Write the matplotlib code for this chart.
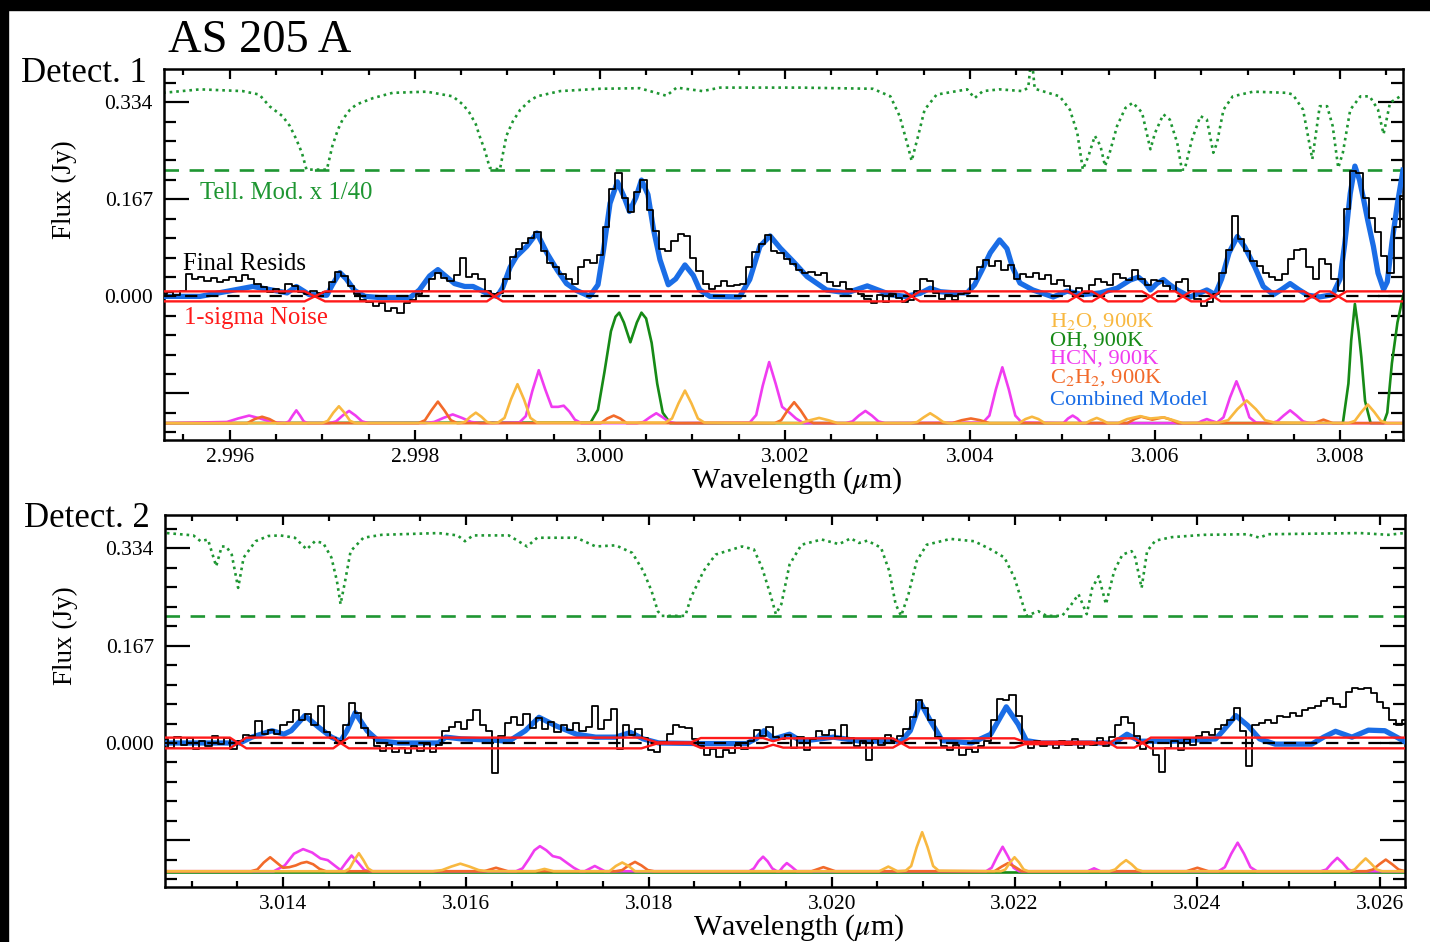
import numpy as np
import matplotlib.pyplot as plt
from matplotlib.patches import Rectangle
from matplotlib.ticker import MultipleLocator, FormatStrFormatter

plt.rcParams['font.family'] = ['Liberation Serif', 'DejaVu Serif']
plt.rcParams['mathtext.fontset'] = 'stix'

# colours
TELL_C = '#1e9632'
OH_C = '#168a16'
RED_C = '#ff1a1a'
BLUE_C = '#1a6de6'
HCN_C = '#f03cf0'
H2O_C = '#f8b840'
C2H2_C = '#f26a2a'

TELL_FLOOR = 0.218
YTICKS = [-0.167, 0.0, 0.167, 0.334]
YLABELS = ['', '0.000', '0.167', '0.334']
XLIM1 = (2.99529, 3.00868)
XLIM2 = (3.01271, 3.02627)

# ---------------- Detector 1 ----------------
tell1 = [(2.99528, 0.350), (2.99568, 0.356), (2.99614, 0.353), (2.99632, 0.347), (2.99643, 0.327),
         (2.99657, 0.310), (2.99665, 0.293), (2.99672, 0.270), (2.99678, 0.247), (2.99683, 0.218),
         (2.99705, 0.218), (2.99711, 0.259), (2.99717, 0.287), (2.99722, 0.304), (2.99730, 0.321),
         (2.99737, 0.330), (2.99755, 0.341), (2.99776, 0.350), (2.99813, 0.352), (2.99841, 0.344),
         (2.99852, 0.330), (2.99859, 0.316), (2.99866, 0.296), (2.99870, 0.276), (2.99876, 0.250),
         (2.99881, 0.221), (2.99892, 0.218), (2.99899, 0.276), (2.99906, 0.301), (2.99914, 0.321),
         (2.99924, 0.336), (2.99932, 0.344), (2.99957, 0.353), (3.00000, 0.357), (3.00043, 0.358),
         (3.00072, 0.345), (3.00083, 0.359), (3.00111, 0.353), (3.00130, 0.359), (3.00216, 0.359),
         (3.00295, 0.357), (3.00314, 0.344), (3.00324, 0.310), (3.00332, 0.264), (3.00337, 0.233),
         (3.00344, 0.276), (3.00351, 0.321), (3.00364, 0.347), (3.00397, 0.356), (3.00405, 0.341),
         (3.00414, 0.353), (3.00432, 0.356), (3.00457, 0.353), (3.00463, 0.359), (3.00465, 0.390),
         (3.00468, 0.390), (3.00470, 0.357), (3.00497, 0.344), (3.00508, 0.321), (3.00516, 0.281),
         (3.00522, 0.218), (3.00528, 0.241), (3.00535, 0.276), (3.00541, 0.259), (3.00546, 0.224),
         (3.00551, 0.247), (3.00559, 0.293), (3.00568, 0.324), (3.00576, 0.333), (3.00586, 0.316),
         (3.00595, 0.253), (3.00600, 0.281), (3.00609, 0.313), (3.00616, 0.304), (3.00624, 0.264),
         (3.00629, 0.218), (3.00632, 0.218), (3.00640, 0.270), (3.00649, 0.310), (3.00656, 0.304),
         (3.00663, 0.247), (3.00667, 0.264), (3.00674, 0.321), (3.00684, 0.344), (3.00706, 0.352),
         (3.00743, 0.350), (3.00749, 0.347), (3.00760, 0.321), (3.00770, 0.236), (3.00778, 0.327),
         (3.00786, 0.327), (3.00792, 0.293), (3.00798, 0.221), (3.00803, 0.247), (3.00811, 0.321),
         (3.00822, 0.344), (3.00832, 0.344), (3.00841, 0.321), (3.00847, 0.279), (3.00854, 0.333),
         (3.00868, 0.347)]

blue1 = [(2.99529, 0.0), (2.99568, 0.0), (2.99595, 0.008), (2.99625, 0.017), (2.99649, 0.010),
         (2.99662, 0.006), (2.99672, 0.017), (2.99679, 0.010), (2.99686, 0.003), (2.99705, 0.002),
         (2.99711, 0.020), (2.99719, 0.041), (2.99726, 0.030), (2.99735, 0.010), (2.99746, 0.0),
         (2.99762, -0.002), (2.99795, -0.002), (2.99805, 0.011), (2.99816, 0.035), (2.99825, 0.046),
         (2.99834, 0.034), (2.99843, 0.022), (2.99854, 0.017), (2.99863, 0.017), (2.99872, 0.010),
         (2.99881, 0.003), (2.99889, 0.0), (2.99895, 0.015), (2.99903, 0.050), (2.99910, 0.069),
         (2.99921, 0.086), (2.99932, 0.109), (2.99943, 0.074), (2.99954, 0.045), (2.99964, 0.022),
         (2.99975, 0.010), (2.99989, 0.0), (2.99998, 0.020), (3.00004, 0.080), (3.00011, 0.160),
         (3.00019, 0.197), (3.00026, 0.172), (3.00032, 0.146), (3.00039, 0.170), (3.00045, 0.200),
         (3.00052, 0.175), (3.00058, 0.115), (3.00065, 0.063), (3.00074, 0.020), (3.00082, 0.030),
         (3.00092, 0.054), (3.00101, 0.036), (3.00108, 0.011), (3.00119, 0.0), (3.00151, -0.001),
         (3.00162, 0.029), (3.00173, 0.086), (3.00184, 0.104), (3.00195, 0.083), (3.00209, 0.060),
         (3.00224, 0.034), (3.00245, 0.011), (3.00267, 0.006), (3.00278, 0.012), (3.00289, 0.018),
         (3.00299, 0.012), (3.00314, 0.003), (3.00330, 0.0), (3.00346, 0.005), (3.00357, 0.014),
         (3.00368, 0.008), (3.00384, 0.006), (3.00397, 0.006), (3.00405, 0.020), (3.00413, 0.045),
         (3.00422, 0.075), (3.00432, 0.097), (3.00440, 0.082), (3.00446, 0.050), (3.00454, 0.023),
         (3.00468, 0.011), (3.00490, -0.001), (3.00505, 0.009), (3.00522, 0.003), (3.00541, 0.006),
         (3.00559, 0.014), (3.00573, 0.028), (3.00582, 0.033), (3.00589, 0.024), (3.00595, 0.011),
         (3.00602, 0.022), (3.00609, 0.029), (3.00616, 0.020), (3.00624, 0.011), (3.00638, -0.001),
         (3.00656, 0.011), (3.00665, 0.003), (3.00672, 0.030), (3.00680, 0.075), (3.00689, 0.103),
         (3.00697, 0.085), (3.00708, 0.050), (3.00717, 0.017), (3.00728, 0.003), (3.00737, 0.012),
         (3.00746, 0.022), (3.00755, 0.012), (3.00765, 0.002), (3.00778, -0.001), (3.00792, 0.003),
         (3.00800, 0.030), (3.00805, 0.090), (3.00811, 0.177), (3.00816, 0.224), (3.00821, 0.200),
         (3.00825, 0.170), (3.00830, 0.130), (3.00836, 0.086), (3.00841, 0.040), (3.00847, 0.012),
         (3.00851, 0.025), (3.00856, 0.092), (3.00862, 0.160), (3.00868, 0.217)]

# final residual spectrum, evenly sampled across the detector
resid1 = [0.004, 0.008, 0.002, 0.010, 0.038, 0.030, 0.034, 0.026, 0.031, 0.024,
          0.028, 0.034, 0.027, 0.036, 0.030, 0.022, 0.016, 0.008, 0.012, 0.005,
          0.022, 0.018, 0.008, 0.004, 0.010, 0.006, 0.008, 0.025, 0.042, 0.035,
          0.018, 0.004, -0.006, -0.010, -0.016, -0.012, -0.026, -0.020, -0.028, -0.012,
          -0.006, 0.004, 0.010, 0.030, 0.040, 0.032, 0.026, 0.036, 0.066, 0.034,
          0.038, 0.030, 0.010, 0.004, 0.006, 0.030, 0.068, 0.082, 0.092, 0.100,
          0.110, 0.078, 0.058, 0.050, 0.038, 0.030, 0.022, 0.050, 0.062, 0.058,
          0.072, 0.120, 0.185, 0.212, 0.170, 0.145, 0.180, 0.200, 0.148, 0.112,
          0.082, 0.078, 0.096, 0.108, 0.104, 0.066, 0.044, 0.022, 0.012, 0.018,
          0.026, 0.018, 0.020, 0.022, 0.050, 0.076, 0.090, 0.106, 0.078, 0.074,
          0.064, 0.056, 0.046, 0.040, 0.042, 0.036, 0.040, 0.024, 0.018, 0.024,
          0.012, 0.010, 0.004, -0.004, -0.012, 0.002, -0.010, 0.004, -0.002, -0.010,
          -0.006, 0.010, 0.030, 0.026, 0.006, -0.004, 0.002, -0.006, 0.004, 0.006,
          0.030, 0.050, 0.062, 0.052, 0.060, 0.046, 0.054, 0.030, 0.038, 0.034,
          0.040, 0.030, 0.036, 0.022, 0.028, 0.018, 0.008, 0.014, 0.006, 0.020,
          0.030, 0.024, 0.020, 0.038, 0.032, 0.028, 0.046, 0.030, 0.020, 0.028,
          0.026, 0.018, 0.010, 0.024, 0.030, 0.010, -0.004, -0.016, -0.010, 0.004,
          0.040, 0.080, 0.138, 0.098, 0.078, 0.060, 0.052, 0.040, 0.034, 0.028,
          0.038, 0.064, 0.080, 0.082, 0.050, 0.030, 0.064, 0.056, 0.030, 0.010,
          0.150, 0.215, 0.212, 0.170, 0.135, 0.110, 0.070, 0.040, 0.120, 0.172]

# 1-sigma noise (the two curves are +sigma and -sigma)
sigma1 = [(2.99529, 0.0086), (2.99681, 0.0086), (2.99692, 0.0), (2.99703, -0.0086), (2.99878, -0.0086),
          (2.99886, 0.0), (2.99895, 0.0086), (3.00329, 0.0086), (3.00337, 0.0), (3.00346, -0.0086),
          (3.00506, -0.0086), (3.00515, 0.0), (3.00523, 0.0086), (3.00532, 0.0086), (3.00541, 0.0),
          (3.00549, -0.0086), (3.00586, -0.0086), (3.00595, 0.0), (3.00603, 0.0086), (3.00622, 0.0086),
          (3.00630, 0.0), (3.00639, -0.0086), (3.00654, -0.0086), (3.00663, 0.0), (3.00671, 0.0086),
          (3.00761, 0.0086), (3.00770, 0.0), (3.00778, -0.0086), (3.00789, -0.0086), (3.00798, 0.0),
          (3.00807, 0.0086), (3.00868, 0.0086)]

hcn1 = [(2.99529, -0.218), (2.99597, -0.216), (2.99609, -0.210), (2.99621, -0.205), (2.99633, -0.210),
        (2.99645, -0.216), (2.99660, -0.218), (2.99664, -0.215), (2.99668, -0.205), (2.99672, -0.196),
        (2.99676, -0.205), (2.99680, -0.215), (2.99684, -0.218), (2.99708, -0.218), (2.99715, -0.215),
        (2.99722, -0.205), (2.99729, -0.197), (2.99736, -0.205), (2.99743, -0.215), (2.99750, -0.218),
        (2.99811, -0.218), (2.99821, -0.216), (2.99831, -0.209), (2.99841, -0.203), (2.99851, -0.209),
        (2.99861, -0.216), (2.99871, -0.218), (2.99913, -0.217), (2.99920, -0.206), (2.99927, -0.163),
        (2.99934, -0.127), (2.99941, -0.160), (2.99948, -0.190), (2.99955, -0.190), (2.99961, -0.188),
        (2.99967, -0.198), (2.99973, -0.212), (2.99980, -0.218), (3.00040, -0.218), (3.00047, -0.216),
        (3.00054, -0.208), (3.00061, -0.201), (3.00068, -0.208), (3.00075, -0.216), (3.00082, -0.218),
        (3.00162, -0.217), (3.00169, -0.204), (3.00176, -0.154), (3.00183, -0.113), (3.00190, -0.150),
        (3.00197, -0.190), (3.00205, -0.200), (3.00212, -0.210), (3.00220, -0.218), (3.00266, -0.218),
        (3.00273, -0.215), (3.00280, -0.205), (3.00287, -0.197), (3.00294, -0.205), (3.00301, -0.215),
        (3.00308, -0.218), (3.00414, -0.217), (3.00421, -0.205), (3.00428, -0.160), (3.00435, -0.122),
        (3.00442, -0.160), (3.00449, -0.205), (3.00456, -0.217), (3.00501, -0.218), (3.00506, -0.210),
        (3.00511, -0.205), (3.00516, -0.210), (3.00521, -0.218), (3.00646, -0.218), (3.00651, -0.214),
        (3.00656, -0.211), (3.00661, -0.214), (3.00667, -0.217), (3.00674, -0.208), (3.00681, -0.174),
        (3.00688, -0.146), (3.00695, -0.174), (3.00702, -0.208), (3.00709, -0.217), (3.00725, -0.218),
        (3.00732, -0.215), (3.00739, -0.205), (3.00746, -0.196), (3.00753, -0.205), (3.00760, -0.215),
        (3.00767, -0.218), (3.00868, -0.218)]

h2o1 = [(2.99529, -0.218), (2.99700, -0.218), (2.99706, -0.214), (2.99712, -0.200), (2.99718, -0.189),
        (2.99724, -0.200), (2.99730, -0.214), (2.99736, -0.218), (2.99848, -0.218), (2.99854, -0.216),
        (2.99860, -0.207), (2.99866, -0.200), (2.99872, -0.207), (2.99878, -0.216), (2.99884, -0.218),
        (2.99890, -0.217), (2.99897, -0.209), (2.99904, -0.177), (2.99911, -0.151), (2.99918, -0.177),
        (2.99925, -0.209), (2.99932, -0.217), (3.00071, -0.217), (3.00078, -0.210), (3.00085, -0.184),
        (3.00092, -0.162), (3.00099, -0.184), (3.00106, -0.210), (3.00113, -0.217), (3.00217, -0.218),
        (3.00227, -0.213), (3.00237, -0.209), (3.00247, -0.213), (3.00257, -0.218), (3.00336, -0.218),
        (3.00343, -0.216), (3.00350, -0.208), (3.00357, -0.201), (3.00364, -0.208), (3.00371, -0.216),
        (3.00378, -0.218), (3.00453, -0.218), (3.00460, -0.211), (3.00467, -0.207), (3.00474, -0.211),
        (3.00481, -0.218), (3.00525, -0.218), (3.00531, -0.213), (3.00537, -0.209), (3.00543, -0.213),
        (3.00549, -0.218), (3.00560, -0.218), (3.00570, -0.211), (3.00584, -0.206), (3.00595, -0.210),
        (3.00609, -0.208), (3.00620, -0.213), (3.00630, -0.218), (3.00669, -0.217), (3.00679, -0.213),
        (3.00689, -0.194), (3.00699, -0.179), (3.00709, -0.194), (3.00719, -0.213), (3.00729, -0.217),
        (3.00809, -0.218), (3.00816, -0.214), (3.00823, -0.199), (3.00830, -0.186), (3.00837, -0.199),
        (3.00844, -0.214), (3.00851, -0.218), (3.00868, -0.218)]

c2h2_1 = [(2.99529, -0.218), (2.99619, -0.218), (2.99627, -0.211), (2.99635, -0.207), (2.99643, -0.211),
          (2.99651, -0.218), (2.99804, -0.218), (2.99811, -0.213), (2.99818, -0.196), (2.99825, -0.181),
          (2.99832, -0.196), (2.99839, -0.213), (2.99846, -0.218), (3.00001, -0.218), (3.00008, -0.210),
          (3.00015, -0.205), (3.00022, -0.210), (3.00029, -0.218), (3.00189, -0.218), (3.00196, -0.213),
          (3.00203, -0.196), (3.00210, -0.182), (3.00217, -0.196), (3.00224, -0.213), (3.00231, -0.218),
          (3.00381, -0.218), (3.00391, -0.213), (3.00401, -0.210), (3.00411, -0.213), (3.00421, -0.218),
          (3.00570, -0.218), (3.00578, -0.211), (3.00585, -0.207), (3.00597, -0.212), (3.00609, -0.208),
          (3.00617, -0.212), (3.00625, -0.218), (3.00772, -0.218), (3.00782, -0.212), (3.00792, -0.218),
          (3.00868, -0.218)]

oh1 = [(2.99529, -0.218), (2.99990, -0.217), (2.99998, -0.195), (3.00005, -0.130), (3.00012, -0.060),
       (3.00017, -0.035), (3.00021, -0.028), (3.00026, -0.045), (3.00033, -0.079), (3.00040, -0.045),
       (3.00045, -0.028), (3.00050, -0.038), (3.00056, -0.080), (3.00062, -0.150), (3.00068, -0.200),
       (3.00076, -0.218), (3.00803, -0.218), (3.00809, -0.150), (3.00812, -0.076), (3.00816, -0.013),
       (3.00820, -0.060), (3.00823, -0.105), (3.00827, -0.180), (3.00833, -0.218), (3.00847, -0.218),
       (3.00851, -0.200), (3.00856, -0.115), (3.00862, -0.045), (3.00868, 0.0)]

# ---------------- Detector 2 ----------------
tell2 = [(3.01273, 0.360), (3.01302, 0.356), (3.01310, 0.346), (3.01318, 0.349), (3.01327, 0.303),
         (3.01333, 0.337), (3.01338, 0.337), (3.01344, 0.323), (3.01351, 0.266), (3.01357, 0.318),
         (3.01370, 0.346), (3.01384, 0.355), (3.01397, 0.356), (3.01413, 0.352), (3.01426, 0.332),
         (3.01435, 0.346), (3.01444, 0.343), (3.01453, 0.318), (3.01459, 0.278), (3.01463, 0.238),
         (3.01468, 0.278), (3.01474, 0.329), (3.01488, 0.352), (3.01508, 0.357), (3.01570, 0.360),
         (3.01591, 0.356), (3.01599, 0.346), (3.01608, 0.356), (3.01647, 0.356), (3.01667, 0.337),
         (3.01678, 0.352), (3.01721, 0.352), (3.01742, 0.337), (3.01764, 0.339), (3.01782, 0.326),
         (3.01794, 0.295), (3.01803, 0.261), (3.01810, 0.226), (3.01814, 0.218), (3.01840, 0.218),
         (3.01846, 0.249), (3.01860, 0.295), (3.01873, 0.323), (3.01885, 0.329), (3.01902, 0.337),
         (3.01915, 0.332), (3.01924, 0.300), (3.01933, 0.255), (3.01939, 0.221), (3.01945, 0.238),
         (3.01954, 0.306), (3.01967, 0.340), (3.01989, 0.349), (3.02008, 0.341), (3.02021, 0.351),
         (3.02030, 0.343), (3.02039, 0.347), (3.02054, 0.335), (3.02063, 0.295), (3.02070, 0.238),
         (3.02076, 0.218), (3.02084, 0.255), (3.02093, 0.312), (3.02104, 0.340), (3.02130, 0.350),
         (3.02156, 0.346), (3.02174, 0.332), (3.02189, 0.318), (3.02200, 0.283), (3.02209, 0.238),
         (3.02213, 0.218), (3.02226, 0.226), (3.02235, 0.218), (3.02252, 0.218), (3.02261, 0.235),
         (3.02270, 0.255), (3.02279, 0.221), (3.02285, 0.266), (3.02292, 0.286), (3.02300, 0.238),
         (3.02309, 0.295), (3.02318, 0.323), (3.02328, 0.329), (3.02332, 0.318), (3.02339, 0.266),
         (3.02345, 0.329), (3.02354, 0.347), (3.02372, 0.353), (3.02407, 0.357), (3.02455, 0.358),
         (3.02468, 0.352), (3.02477, 0.358), (3.02578, 0.360), (3.02609, 0.357), (3.02626, 0.360)]

blue2 = [(3.01273, 0.0), (3.01353, 0.0), (3.01366, 0.010), (3.01388, 0.021), (3.01401, 0.015),
         (3.01409, 0.021), (3.01424, 0.047), (3.01439, 0.027), (3.01453, 0.010), (3.01463, 0.003),
         (3.01470, 0.021), (3.01479, 0.052), (3.01492, 0.021), (3.01504, 0.004), (3.01526, 0.0),
         (3.01570, 0.0), (3.01578, 0.010), (3.01595, 0.007), (3.01628, 0.005), (3.01647, 0.003),
         (3.01665, 0.021), (3.01680, 0.044), (3.01699, 0.029), (3.01721, 0.015), (3.01742, 0.010),
         (3.01764, 0.010), (3.01780, 0.018), (3.01794, 0.007), (3.01811, 0.0), (3.01857, -0.001),
         (3.01907, -0.001), (3.01918, 0.008), (3.01926, 0.021), (3.01937, 0.007), (3.01954, 0.015),
         (3.01967, 0.003), (3.02002, 0.010), (3.02032, 0.003), (3.02076, 0.003), (3.02086, 0.021),
         (3.02097, 0.070), (3.02108, 0.038), (3.02121, 0.004), (3.02153, 0.0), (3.02174, 0.015),
         (3.02191, 0.062), (3.02204, 0.032), (3.02213, 0.004), (3.02229, 0.0), (3.02309, 0.0),
         (3.02323, 0.015), (3.02337, 0.003), (3.02372, 0.003), (3.02420, 0.007), (3.02428, 0.021),
         (3.02442, 0.047), (3.02455, 0.030), (3.02468, 0.007), (3.02485, -0.002), (3.02525, -0.002),
         (3.02538, 0.010), (3.02551, 0.020), (3.02569, 0.010), (3.02587, 0.022), (3.02605, 0.021),
         (3.02618, 0.010), (3.02626, 0.003)]

resid2 = [0.006, -0.008, 0.010, -0.004, 0.008, -0.010, 0.004, -0.006, 0.012, -0.002,
          0.008, -0.010, 0.004, 0.014, 0.012, 0.038, 0.016, 0.022, 0.016, 0.030,
          0.036, 0.056, 0.040, 0.050, 0.030, 0.064, 0.018, 0.008, 0.004, 0.030,
          0.068, 0.052, 0.026, 0.010, -0.006, -0.014, -0.004, -0.016, -0.008, -0.018,
          -0.006, -0.014, -0.002, -0.016, -0.004, 0.020, 0.028, 0.036, 0.024, 0.040,
          0.056, 0.030, 0.020, -0.052, 0.012, 0.034, 0.044, 0.030, 0.050, 0.026,
          0.042, 0.024, 0.036, 0.018, 0.030, 0.022, 0.034, 0.020, 0.028, 0.064,
          0.024, 0.040, 0.058, -0.010, 0.030, 0.014, 0.024, 0.008, -0.012, -0.016,
          0.002, 0.016, 0.030, 0.028, 0.026, 0.006, -0.006, -0.020, -0.010, -0.024,
          -0.012, -0.018, -0.004, -0.010, 0.004, 0.022, 0.012, 0.028, 0.010, 0.006,
          0.014, -0.008, 0.010, -0.012, 0.006, 0.020, 0.014, 0.022, 0.010, 0.030,
          0.008, -0.006, 0.004, -0.030, 0.006, -0.004, 0.014, 0.004, 0.012, 0.024,
          0.044, 0.074, 0.060, 0.040, 0.010, -0.006, -0.012, -0.004, -0.020, -0.010,
          -0.016, -0.006, 0.004, 0.040, 0.076, 0.074, 0.082, 0.046, -0.002, -0.008,
          0.004, -0.006, 0.002, -0.008, 0.004, -0.004, 0.006, -0.008, 0.002, -0.004,
          0.008, -0.006, 0.010, 0.030, 0.044, 0.034, 0.012, -0.010, 0.002, -0.020,
          -0.050, -0.008, 0.004, -0.012, 0.006, -0.004, 0.012, 0.018, 0.014, 0.024,
          0.030, 0.040, 0.060, 0.020, -0.040, 0.030, 0.034, 0.040, 0.034, 0.046,
          0.044, 0.052, 0.046, 0.056, 0.060, 0.064, 0.072, 0.078, 0.066, 0.062,
          0.088, 0.094, 0.092, 0.094, 0.086, 0.070, 0.060, 0.040, 0.030, 0.040]

sigma2 = [(3.01272, 0.0092), (3.01342, 0.0092), (3.01351, 0.0), (3.01360, -0.0092), (3.01455, -0.0092),
          (3.01463, 0.0), (3.01472, 0.0092), (3.01792, 0.0092), (3.01809, 0.001), (3.01846, 0.001),
          (3.01857, 0.0085), (3.01925, 0.0085), (3.01936, 0.003), (3.01947, 0.008), (3.02067, 0.008),
          (3.02076, 0.0), (3.02085, -0.008), (3.02200, -0.008), (3.02211, -0.002), (3.02284, -0.002),
          (3.02290, 0.0), (3.02295, 0.002), (3.02304, 0.0), (3.02312, -0.008), (3.02331, -0.008),
          (3.02340, 0.0), (3.02349, 0.0092), (3.02627, 0.0092)]

hcn2 = [(3.01272, -0.220), (3.01390, -0.220), (3.01402, -0.210), (3.01412, -0.190), (3.01422, -0.182),
        (3.01432, -0.188), (3.01441, -0.198), (3.01449, -0.201), (3.01458, -0.212), (3.01463, -0.218),
        (3.01469, -0.205), (3.01475, -0.193), (3.01482, -0.205), (3.01489, -0.218), (3.01495, -0.220),
        (3.01655, -0.220), (3.01662, -0.215), (3.01669, -0.199), (3.01675, -0.184), (3.01681, -0.177),
        (3.01688, -0.184), (3.01695, -0.194), (3.01703, -0.197), (3.01710, -0.205), (3.01718, -0.214),
        (3.01725, -0.220), (3.01730, -0.220), (3.01741, -0.211), (3.01752, -0.220), (3.01910, -0.220),
        (3.01915, -0.215), (3.01920, -0.203), (3.01925, -0.195), (3.01930, -0.203), (3.01935, -0.215),
        (3.01940, -0.220), (3.01943, -0.220), (3.01947, -0.212), (3.01951, -0.206), (3.01956, -0.212),
        (3.01962, -0.220), (3.02169, -0.220), (3.02175, -0.214), (3.02181, -0.195), (3.02187, -0.178),
        (3.02193, -0.195), (3.02199, -0.214), (3.02205, -0.220), (3.02280, -0.220), (3.02287, -0.215),
        (3.02294, -0.220), (3.02423, -0.220), (3.02430, -0.213), (3.02437, -0.190), (3.02444, -0.171),
        (3.02451, -0.190), (3.02458, -0.213), (3.02465, -0.220), (3.02535, -0.220), (3.02541, -0.217),
        (3.02547, -0.206), (3.02553, -0.197), (3.02559, -0.206), (3.02565, -0.217), (3.02571, -0.220),
        (3.02627, -0.220)]

h2o2 = [(3.01272, -0.220), (3.01468, -0.220), (3.01473, -0.215), (3.01478, -0.201), (3.01483, -0.189),
        (3.01488, -0.201), (3.01493, -0.215), (3.01498, -0.220), (3.01564, -0.220), (3.01574, -0.218),
        (3.01584, -0.212), (3.01594, -0.207), (3.01604, -0.212), (3.01614, -0.218), (3.01624, -0.220),
        (3.01676, -0.220), (3.01686, -0.216), (3.01696, -0.220), (3.01757, -0.220), (3.01764, -0.211),
        (3.01771, -0.205), (3.01778, -0.211), (3.01785, -0.220), (3.02052, -0.220), (3.02062, -0.212),
        (3.02072, -0.220), (3.02081, -0.219), (3.02087, -0.211), (3.02093, -0.179), (3.02099, -0.153),
        (3.02105, -0.179), (3.02111, -0.211), (3.02117, -0.219), (3.02185, -0.220), (3.02190, -0.217),
        (3.02195, -0.205), (3.02200, -0.196), (3.02205, -0.205), (3.02210, -0.217), (3.02215, -0.220),
        (3.02304, -0.220), (3.02310, -0.217), (3.02316, -0.208), (3.02322, -0.201), (3.02328, -0.208),
        (3.02334, -0.217), (3.02340, -0.220), (3.02566, -0.220), (3.02572, -0.217), (3.02578, -0.207),
        (3.02584, -0.198), (3.02590, -0.207), (3.02596, -0.217), (3.02602, -0.220), (3.02627, -0.220)]

c2h2_2 = [(3.01272, -0.220), (3.01365, -0.220), (3.01372, -0.217), (3.01379, -0.205), (3.01386, -0.196),
          (3.01393, -0.205), (3.01400, -0.214), (3.01407, -0.213), (3.01414, -0.210), (3.01420, -0.206),
          (3.01426, -0.204), (3.01433, -0.208), (3.01440, -0.216), (3.01447, -0.220), (3.01620, -0.220),
          (3.01633, -0.214), (3.01646, -0.220), (3.01764, -0.220), (3.01771, -0.218), (3.01778, -0.210),
          (3.01785, -0.204), (3.01792, -0.210), (3.01799, -0.218), (3.01806, -0.220), (3.01978, -0.220),
          (3.01991, -0.213), (3.02004, -0.220), (3.02178, -0.220), (3.02186, -0.212), (3.02193, -0.206),
          (3.02200, -0.212), (3.02208, -0.220), (3.02388, -0.220), (3.02400, -0.214), (3.02412, -0.220),
          (3.02585, -0.220), (3.02592, -0.217), (3.02599, -0.208), (3.02606, -0.200), (3.02613, -0.208),
          (3.02620, -0.217), (3.02627, -0.220)]

oh2 = [(3.01272, -0.2205), (3.02627, -0.2205)]

fig = plt.figure(figsize=(14.3, 9.42), dpi=100)
fig.patches.append(Rectangle((0, 1 - 10 / 942), 1, 10 / 942, transform=fig.transFigure,
                             color='black', zorder=0))
fig.patches.append(Rectangle((0, 0), 8 / 1430, 1, transform=fig.transFigure,
                             color='black', zorder=0))

ax1 = fig.add_axes([0.11469, 0.53291, 0.86643, 0.39384])
ax2 = fig.add_axes([0.11538, 0.05839, 0.86713, 0.39490])


def xy(pairs):
    a = np.array(pairs)
    return a[:, 0], a[:, 1]


def draw_panel(ax, xlim, tell, mols, blue, resid, sigma):
    w, f = xy(tell)
    ax.plot(w, f, color=TELL_C, lw=1.9, ls=(0, (1, 1.5)), zorder=2)
    ax.axhline(TELL_FLOOR, color=TELL_C, lw=1.9, ls=(0, (5.5, 4)), zorder=2)
    for curve, col in mols:
        w, f = xy(curve)
        ax.plot(w, f, color=col, lw=1.9, zorder=2)
    w, f = xy(blue)
    ax.plot(w, f, color=BLUE_C, lw=3.8, solid_joinstyle='round', zorder=3)
    rw = np.linspace(xlim[0], xlim[1], len(resid))
    ax.plot(rw, resid, color='black', lw=1.3, drawstyle='steps-mid', zorder=4)
    ax.axhline(0.0, color='black', lw=1.6, ls=(0, (5.5, 4)), zorder=5)
    w, s = xy(sigma)
    ax.plot(w, s, color=RED_C, lw=1.7, zorder=6)
    ax.plot(w, -s, color=RED_C, lw=1.7, zorder=6)

    ax.set_xlim(*xlim)
    ax.set_ylim(-0.247, 0.391)
    ax.xaxis.set_major_locator(MultipleLocator(0.002))
    ax.xaxis.set_minor_locator(MultipleLocator(0.0005))
    ax.xaxis.set_major_formatter(FormatStrFormatter('%.3f'))
    ax.set_yticks(YTICKS)
    ax.set_yticklabels(YLABELS)
    ax.yaxis.set_minor_locator(MultipleLocator(0.0334))
    ax.tick_params(which='both', direction='in', top=True, right=True, width=1.6,
                   labelsize=15.5)
    ax.tick_params(axis='x', which='major', length=7, pad=6)
    ax.tick_params(axis='x', which='minor', length=4)
    ax.tick_params(axis='y', which='major', length=18, pad=8)
    ax.tick_params(axis='y', which='minor', length=8.5)
    for sp in ax.spines.values():
        sp.set_linewidth(1.8)
    ax.text(0.511, -0.129, r'Wavelength ($\mu$m)', transform=ax.transAxes,
            ha='center', va='baseline', fontsize=21.5)
    ax.text(-0.080, 0.675, 'Flux (Jy)', transform=ax.transAxes, rotation=90,
            ha='center', va='center', fontsize=19.5)


draw_panel(ax1, XLIM1, tell1, [(oh1, OH_C), (hcn1, HCN_C), (c2h2_1, C2H2_C), (h2o1, H2O_C)],
           blue1, resid1, sigma1)
draw_panel(ax2, XLIM2, tell2, [(oh2, OH_C), (hcn2, HCN_C), (c2h2_2, C2H2_C), (h2o2, H2O_C)],
           blue2, resid2, sigma2)

# labels inside detector 1
ax1.text(0.029, 0.650, 'Tell. Mod. x 1/40', transform=ax1.transAxes, color=TELL_C,
         fontsize=17.8, va='baseline')
ax1.text(0.0153, 0.458, 'Final Resids', transform=ax1.transAxes, color='black',
         fontsize=17.8, va='baseline')
ax1.text(0.0161, 0.313, '1-sigma Noise', transform=ax1.transAxes, color=RED_C,
         fontsize=17.8, va='baseline')
legend_items = [('H$_2$O, 900K', H2O_C), ('OH, 900K', OH_C), ('HCN, 900K', HCN_C),
                ('C$_2$H$_2$, 900K', C2H2_C), ('Combined Model', BLUE_C)]
legend_y = [0.307, 0.2534, 0.2049, 0.1536, 0.0943]
for (lab, col), yy in zip(legend_items, legend_y):
    ax1.text(0.715, yy, lab, transform=ax1.transAxes, color=col, fontsize=16.2, va='baseline')

fig.text(0.1175, 0.9448, 'AS 205 A', fontsize=33.5, va='baseline')
fig.text(0.0145, 0.9130, 'Detect. 1', fontsize=25, va='baseline')
fig.text(0.0171, 0.4406, 'Detect. 2', fontsize=25, va='baseline')

fig.savefig('out.png', dpi=100)
